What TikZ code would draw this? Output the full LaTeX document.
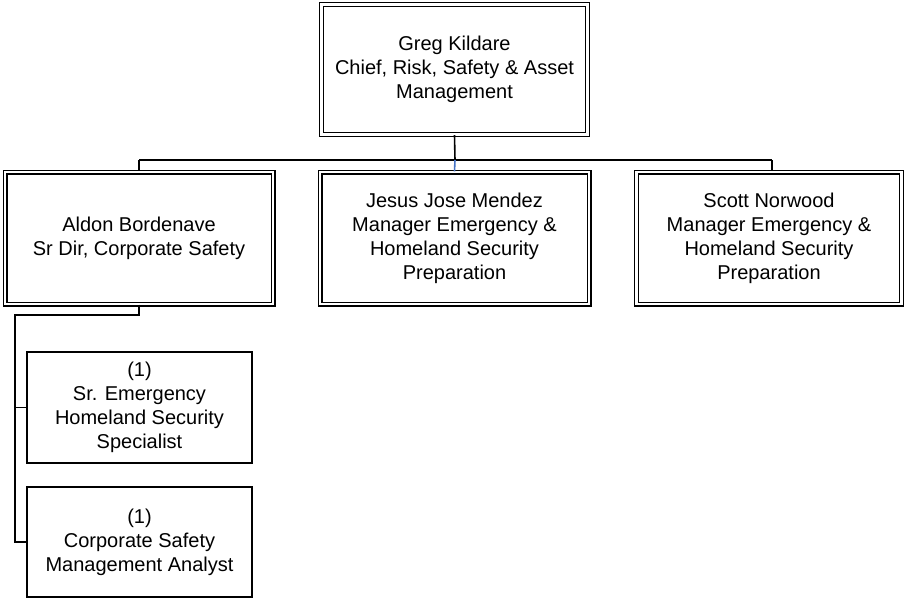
\documentclass[tikz,border=0pt]{standalone}
\usepackage{fontspec}
\setmainfont{Liberation Sans}
\definecolor{linkblue}{RGB}{68,114,196}
\begin{document}
\begin{tikzpicture}[x=1pt,y=-1pt,
  txt/.style={font=\fontsize{20}{24}\selectfont, align=center, inner sep=0pt},
  dbox/.style={txt, draw=black, double=white, double distance=2.2pt, line width=1.4pt, rectangle},
  sbox/.style={txt, draw=black, line width=1.6pt, rectangle},
  conn/.style={draw=black, line width=1.6pt}]
\useasboundingbox (0,0) rectangle (905,600);
\node[dbox, minimum width=266pt, minimum height=130pt] (greg) at (454.5,69.5)
  {Greg Kildare\\Chief, Risk, Safety \& Asset\\Management};
\node[dbox, minimum width=268pt, minimum height=132pt] (aldon) at (139,238)
  {Aldon Bordenave\\Sr Dir, Corporate Safety};
\node[dbox, minimum width=269pt, minimum height=132pt] (jesus) at (454.5,238)
  {Jesus Jose Mendez\\Manager Emergency \&\\Homeland Security\\Preparation};
\node[dbox, minimum width=265pt, minimum height=132pt] (scott) at (769,238)
  {Scott Norwood\\Manager Emergency \&\\Homeland Security\\Preparation};
\node[sbox, minimum width=225pt, minimum height=111pt] (spec) at (139.5,407.5)
  {(1)\\Sr. Emergency\\Homeland Security\\Specialist};
\node[sbox, minimum width=225pt, minimum height=110pt] (anal) at (139.5,542)
  {(1)\\Corporate Safety\\Management Analyst};
\coordinate (hub) at (455,160);
\coordinate (hl) at (139,160);
\coordinate (hr) at (772,160);
\coordinate (bend) at (139,315);
\coordinate (spine) at (15,315);
\draw[conn] (greg.south) -- (hub);
\draw[conn] (hl) -- (hr);
\draw[line width=1.6pt, draw=linkblue] (hub) -- (jesus.north);
\draw[conn] (hl) -- (aldon.north);
\draw[conn] (hr) -- (hr |- scott.north);
\draw[conn] (aldon.south) -- (bend) -- (spine) -- (spine |- anal.west) -- (anal.west);
\draw[conn] (spine |- spec.west) -- (spec.west);
\end{tikzpicture}
\end{document}
